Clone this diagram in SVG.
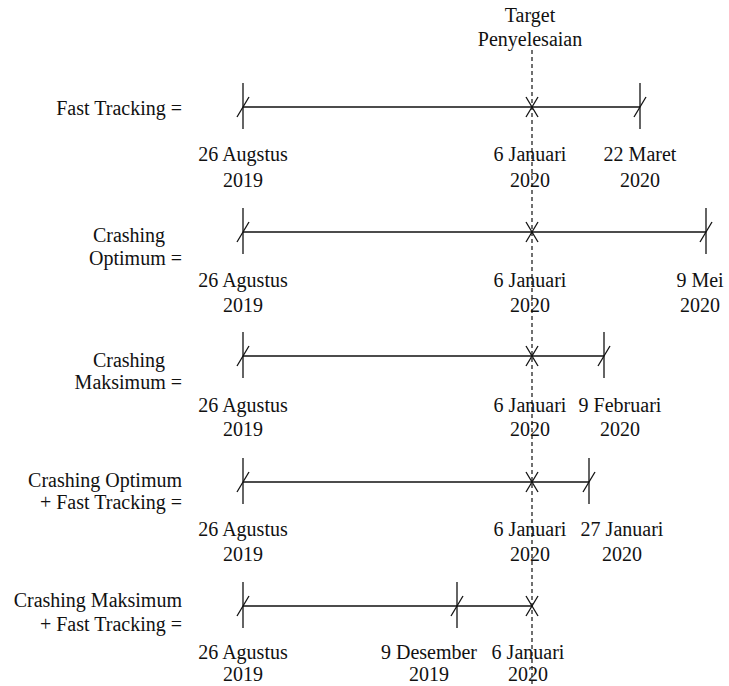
<svg xmlns="http://www.w3.org/2000/svg" width="729" height="686" viewBox="0 0 729 686">
<style>
text{font-family:"Liberation Serif","Times New Roman",serif;font-size:20px;fill:#111}
.m{text-anchor:middle}
.e{text-anchor:end}
line{stroke:#111;stroke-width:1.3}
.d{stroke-dasharray:4 3;stroke-width:1.2}
</style>
<defs>
<g id="tick"><line x1="0" y1="-24" x2="0" y2="22"/><line x1="-6" y1="10" x2="6" y2="-10"/></g>
<g id="cross"><line x1="-6" y1="-10" x2="6" y2="10"/><line x1="6" y1="-10" x2="-6" y2="10"/></g>
</defs>
<g id="target">
<text class="m" x="530" y="22">Target</text>
<text class="m" x="530" y="46">Penyelesaian</text>
<line class="d" x1="532" y1="50" x2="532" y2="686"/>
</g>
<g id="connectors">
<line x1="243" y1="107" x2="640" y2="107"/>
<line x1="243" y1="232" x2="706" y2="232"/>
<line x1="243" y1="356" x2="604" y2="356"/>
<line x1="243" y1="482" x2="589" y2="482"/>
<line x1="243" y1="606" x2="532" y2="606"/>
</g>
<g id="row1">
<text class="e" x="182" y="115">Fast Tracking =</text>
<use href="#tick" x="243" y="107"/><use href="#cross" x="532" y="107"/><use href="#tick" x="640" y="107"/>
<text class="m" x="243" y="161">26 Augstus</text><text class="m" x="243" y="187">2019</text>
<text class="m" x="530" y="161">6 Januari</text><text class="m" x="530" y="187">2020</text>
<text class="m" x="640" y="161">22 Maret</text><text class="m" x="640" y="187">2020</text>
</g>
<g id="row2">
<text class="m" x="129" y="242">Crashing</text>
<text class="e" x="182" y="265">Optimum =</text>
<use href="#tick" x="243" y="232"/><use href="#cross" x="532" y="232"/><use href="#tick" x="706" y="232"/>
<text class="m" x="243" y="287">26 Agustus</text><text class="m" x="243" y="312">2019</text>
<text class="m" x="530" y="287">6 Januari</text><text class="m" x="530" y="312">2020</text>
<text class="m" x="700" y="287">9 Mei</text><text class="m" x="700" y="312">2020</text>
</g>
<g id="row3">
<text class="m" x="129" y="367">Crashing</text>
<text class="e" x="182" y="389">Maksimum =</text>
<use href="#tick" x="243" y="356"/><use href="#cross" x="532" y="356"/><use href="#tick" x="604" y="356"/>
<text class="m" x="243" y="412">26 Agustus</text><text class="m" x="243" y="436">2019</text>
<text class="m" x="530" y="412">6 Januari</text><text class="m" x="530" y="436">2020</text>
<text class="m" x="620" y="412">9 Februari</text><text class="m" x="620" y="436">2020</text>
</g>
<g id="row4">
<text class="e" x="182" y="487">Crashing Optimum</text>
<text class="e" x="182" y="509">+ Fast Tracking =</text>
<use href="#tick" x="243" y="482"/><use href="#cross" x="532" y="482"/><use href="#tick" x="589" y="482"/>
<text class="m" x="243" y="536">26 Agustus</text><text class="m" x="243" y="561">2019</text>
<text class="m" x="530" y="536">6 Januari</text><text class="m" x="530" y="561">2020</text>
<text class="m" x="622" y="536">27 Januari</text><text class="m" x="622" y="561">2020</text>
</g>
<g id="row5">
<text class="e" x="182" y="607">Crashing Maksimum</text>
<text class="e" x="182" y="631">+ Fast Tracking =</text>
<use href="#tick" x="243" y="606"/><use href="#tick" x="457" y="606"/><use href="#cross" x="532" y="606"/>
<text class="m" x="243" y="659">26 Agustus</text><text class="m" x="243" y="681">2019</text>
<text class="m" x="429" y="659">9 Desember</text><text class="m" x="429" y="681">2019</text>
<text class="m" x="528" y="659">6 Januari</text><text class="m" x="528" y="681">2020</text>
</g>
</svg>
